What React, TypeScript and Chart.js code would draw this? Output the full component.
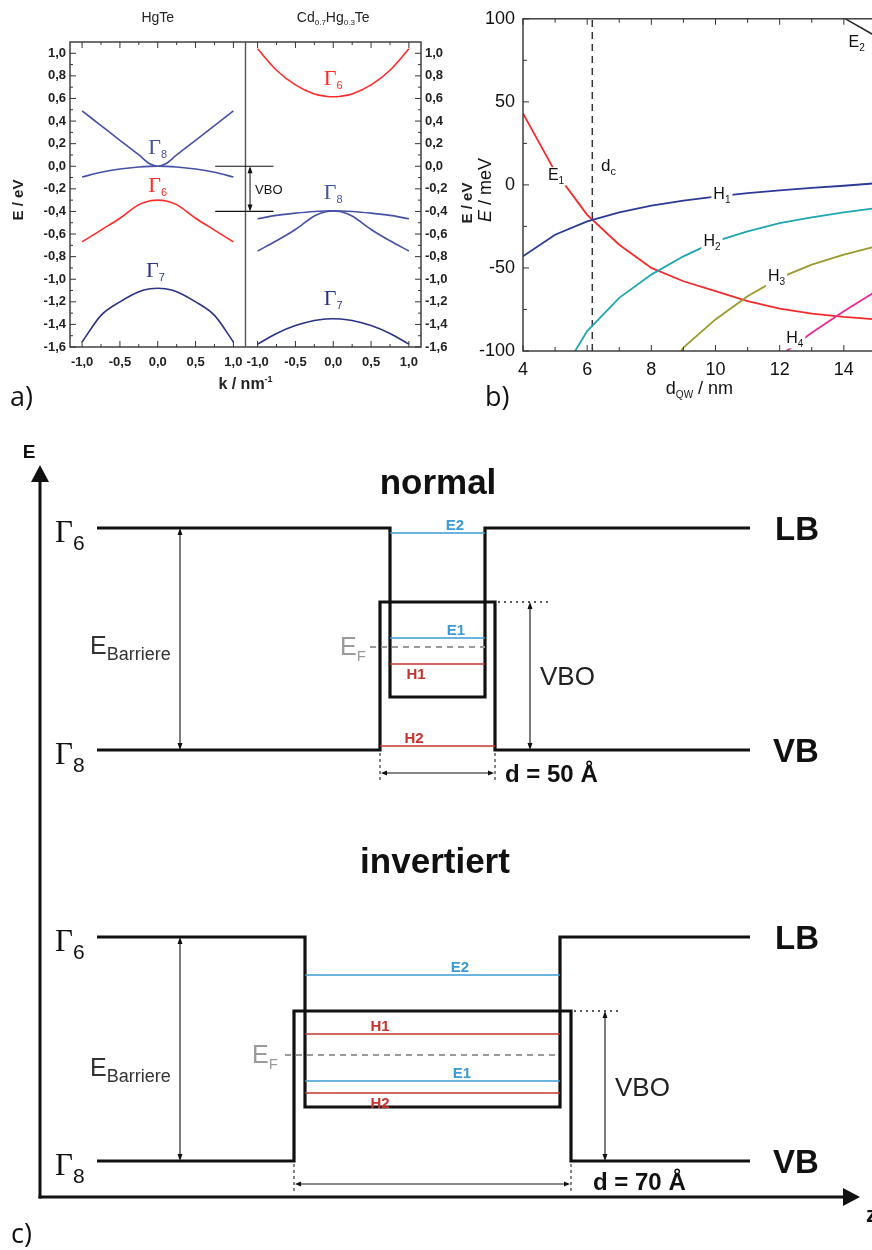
import React, { useEffect, useRef } from 'react';
import { Chart, registerables } from 'chart.js';

Chart.register(...registerables);

const SANS = "'Liberation Sans', Arial, Helvetica, sans-serif";
const NARROW = "'Liberation Sans Narrow', 'Liberation Sans', Arial, sans-serif";
const SERIF = "'Liberation Serif', 'DejaVu Serif', 'Times New Roman', serif";
const LIGHT = "'Open Sans', 'Liberation Sans', sans-serif";

/* ---------------- Panel a) band structure data (E in eV, k in 1/nm) ---------------- */
const kPoints = [-1, -0.75, -0.5, -0.25, -0.1, 0, 0.1, 0.25, 0.5, 0.75, 1];
const hgTeGamma8Light = [0.49, 0.36, 0.23, 0.1, 0.02, 0, 0.02, 0.1, 0.23, 0.36, 0.49];
const hgTeGamma8Heavy = [-0.095, -0.053, -0.024, -0.006, -0.001, 0, -0.001, -0.006, -0.024, -0.053, -0.095];
const hgTeGamma6 = [-0.67, -0.565, -0.46, -0.34, -0.305, -0.3, -0.305, -0.34, -0.46, -0.565, -0.67];
const hgTeGamma7 = [-1.555, -1.32, -1.2, -1.11, -1.085, -1.08, -1.085, -1.11, -1.2, -1.32, -1.555];
const cdHgTeGamma6 = [1.04, 0.85, 0.72, 0.64, 0.62, 0.615, 0.62, 0.64, 0.72, 0.85, 1.04];
const cdHgTeGamma8Heavy = [-0.465, -0.435, -0.415, -0.4, -0.396, -0.395, -0.396, -0.4, -0.415, -0.435, -0.465];
const cdHgTeGamma8Light = [-0.75, -0.66, -0.56, -0.44, -0.402, -0.395, -0.402, -0.44, -0.56, -0.66, -0.75];
const cdHgTeGamma7 = [-1.575, -1.48, -1.41, -1.365, -1.352, -1.35, -1.352, -1.365, -1.41, -1.48, -1.575];
const kTickValues = [-1, -0.5, 0, 0.5, 1];
const kMinorTicks = [-0.75, -0.25, 0.25, 0.75];
const energyTicksA = [-1.6, -1.4, -1.2, -1.0, -0.8, -0.6, -0.4, -0.2, 0, 0.2, 0.4, 0.6, 0.8, 1.0];
const energyMinorA = [-1.5, -1.3, -1.1, -0.9, -0.7, -0.5, -0.3, -0.1, 0.1, 0.3, 0.5, 0.7, 0.9];
const vboLevelsA = [0, -0.4];

/* ---------------- Panel b) subband energies (meV) vs QW thickness (nm) ---------------- */
const dQW = [4, 5, 6, 7, 8, 9, 10, 11, 12, 13, 14, 15, 16];
const subbandE1 = [43, 8, -18, -36, -50, -58, -64, -70, -74.5, -77.5, -79.5, -81, -82];
const subbandH1 = [-43, -30, -22, -16.5, -12.5, -9.5, -7, -5, -3.3, -1.8, -0.5, 1, 2];
const subbandH2 = [null, -120, -88, -68, -54, -43, -34, -28, -23, -19.5, -16.5, -14, -12];
const subbandH3 = [null, null, null, null, -125, -98, -81, -67, -56, -48, -42, -37, -33];
const subbandH4 = [null, null, null, null, null, null, null, null, -103, -89, -76, -64, -54];
const subbandE2 = [null, null, null, null, null, null, null, null, null, 113, 100.5, 89.5, 80];
const criticalThickness = 6.16;
const dTickValues = [4, 6, 8, 10, 12, 14, 16];
const eTickValuesB = [-100, -50, 0, 50, 100];

/* ---------------- Panel c) schematic band edges (z, E in schematic units) ---------------- */
const zBandStart = 57;
const zBandEnd = 710;
const normalLBWalls = [350, 445];
const normalVBWalls = [340, 455];
const normalLBEdges = [669, 500];
const normalVBEdges = [447, 595];
const normalSubbandNames = ['E2', 'E1', 'H1', 'H2'];
const normalSubbandEnergies = [664, 559, 533, 451];
const normalFermi = 550;
const invertedLBWalls = [265, 520];
const invertedVBWalls = [254, 531];
const invertedLBEdges = [260, 90];
const invertedVBEdges = [36, 186];
const invertedSubbandNames = ['E2', 'H1', 'E1', 'H2'];
const invertedSubbandEnergies = [222, 163, 116, 104];
const invertedFermi = 142;
const wellWidthsAngstrom = [50, 70];

/* ---------------- helpers ---------------- */
type Part = { t: string; size: number; family?: string; weight?: string; style?: string; dy?: number; color?: string };

function drawParts(ctx: any, x: number, y: number, parts: Part[], align = 'left', color = '#000', bg?: string) {
  ctx.save();
  ctx.textAlign = 'left';
  ctx.textBaseline = 'alphabetic';
  const fontOf = (p: Part) => `${p.style || 'normal'} ${p.weight || 'normal'} ${p.size}px ${p.family || SANS}`;
  const widths = parts.map((p) => {
    ctx.font = fontOf(p);
    return ctx.measureText(p.t).width;
  });
  const total = widths.reduce((s, w) => s + w, 0);
  let cx = align === 'center' ? x - total / 2 : align === 'right' ? x - total : x;
  if (bg) {
    const h = Math.max(...parts.map((p) => p.size));
    ctx.fillStyle = bg;
    ctx.fillRect(cx - 2, y - h * 0.8, total + 4, h * 1.15);
  }
  parts.forEach((p, i) => {
    ctx.font = fontOf(p);
    ctx.fillStyle = p.color || color;
    ctx.fillText(p.t, cx, y + (p.dy || 0));
    cx += widths[i];
  });
  ctx.restore();
  return total;
}

function head(ctx: any, x: number, y: number, dx: number, dy: number, len: number, half: number) {
  const bx = x - dx * len;
  const by = y - dy * len;
  ctx.beginPath();
  ctx.moveTo(x, y);
  ctx.lineTo(bx - dy * half, by + dx * half);
  ctx.lineTo(bx + dy * half, by - dx * half);
  ctx.closePath();
  ctx.fill();
}

function doubleArrow(ctx: any, x1: number, y1: number, x2: number, y2: number, len = 7, half = 2.5, lw = 1, color = '#111') {
  ctx.save();
  ctx.strokeStyle = color;
  ctx.fillStyle = color;
  ctx.lineWidth = lw;
  const L = Math.hypot(x2 - x1, y2 - y1);
  const ux = (x2 - x1) / L;
  const uy = (y2 - y1) / L;
  ctx.beginPath();
  ctx.moveTo(x1 + ux * 2, y1 + uy * 2);
  ctx.lineTo(x2 - ux * 2, y2 - uy * 2);
  ctx.stroke();
  head(ctx, x2, y2, ux, uy, len, half);
  head(ctx, x1, y1, -ux, -uy, len, half);
  ctx.restore();
}

function seg(ctx: any, x1: number, y1: number, x2: number, y2: number) {
  ctx.beginPath();
  ctx.moveTo(x1, y1);
  ctx.lineTo(x2, y2);
  ctx.stroke();
}

function pairs(xs: number[], ys: (number | null)[], shift = 0) {
  const out: any[] = [];
  xs.forEach((x, i) => {
    if (ys[i] !== null && ys[i] !== undefined) out.push({ x: x + shift, y: ys[i] });
  });
  return out;
}

function lineDs(data: any[], color: string, width = 1.6, extra: any = {}) {
  return {
    data,
    borderColor: color,
    backgroundColor: color,
    borderWidth: width,
    pointRadius: 0,
    pointHoverRadius: 0,
    showLine: true,
    fill: false,
    tension: 0,
    ...extra,
  };
}

const commaFmt = (v: number) => {
  const r = Math.round(v * 10) / 10;
  const s = (Math.abs(r) < 1e-9 ? 0 : r).toFixed(1);
  return s.replace('.', ',');
};

/* ---------------- Panel a) ---------------- */
const K_HALF = 1.16;
const K_SHIFT = 2.32;
const NAVY = '#4551a6';
const NAVY_DARK = '#2c3285';
const RED = '#ff2b2b';

const panelAPlugin = {
  id: 'panelA',
  afterDraw(chart: any) {
    const { ctx, chartArea: ca, scales } = chart;
    const X = (v: number) => scales.x.getPixelForValue(v);
    const Y = (v: number) => scales.y.getPixelForValue(v);
    ctx.save();
    ctx.strokeStyle = '#333';
    ctx.lineWidth = 1.4;
    ctx.strokeRect(ca.left, ca.top, ca.right - ca.left, ca.bottom - ca.top);
    ctx.strokeStyle = '#555';
    seg(ctx, X(K_HALF), ca.top, X(K_HALF), ca.bottom);
    ctx.strokeStyle = '#333';
    ctx.lineWidth = 1;
    const xMajor = [...kTickValues, ...kTickValues.map((v) => v + K_SHIFT)];
    const xMinor = [...kMinorTicks, ...kMinorTicks.map((v) => v + K_SHIFT)];
    xMajor.forEach((v) => {
      const p = X(v);
      seg(ctx, p, ca.bottom, p, ca.bottom - 6);
      seg(ctx, p, ca.top, p, ca.top + 6);
    });
    xMinor.forEach((v) => {
      const p = X(v);
      seg(ctx, p, ca.bottom, p, ca.bottom - 3);
      seg(ctx, p, ca.top, p, ca.top + 3);
    });
    energyTicksA.forEach((v) => {
      const p = Y(v);
      seg(ctx, ca.left, p, ca.left + 6, p);
      seg(ctx, ca.right, p, ca.right - 6, p);
    });
    energyMinorA.forEach((v) => {
      const p = Y(v);
      seg(ctx, ca.left, p, ca.left + 3, p);
      seg(ctx, ca.right, p, ca.right - 3, p);
    });
    // VBO marker
    ctx.strokeStyle = '#111';
    ctx.lineWidth = 1.2;
    vboLevelsA.forEach((e) => seg(ctx, X(0.76), Y(e), X(K_SHIFT - 0.79), Y(e)));
    doubleArrow(ctx, X(1.22), Y(vboLevelsA[0]), X(1.22), Y(vboLevelsA[1]), 7, 2.5, 1, '#111');
    drawParts(ctx, X(1.22) + 5, Y(-0.2) + 5, [{ t: 'VBO', size: 13 }], 'left', '#111');
    // Gamma labels
    const gam = (k: number, e: number, n: string, color: string) =>
      drawParts(ctx, X(k), Y(e) + 7, [
        { t: 'Γ', size: 22, family: SERIF },
        { t: n, size: 11, dy: 4 },
      ], 'center', color);
    gam(0, 0.17, '8', NAVY);
    gam(0, -0.17, '6', RED);
    gam(-0.03, -0.92, '7', NAVY_DARK);
    gam(K_SHIFT, 0.78, '6', RED);
    gam(K_SHIFT, -0.23, '8', NAVY);
    gam(K_SHIFT, -1.17, '7', NAVY_DARK);
    // titles
    drawParts(ctx, X(0), 22, [{ t: 'HgTe', size: 14 }], 'center', '#222');
    drawParts(ctx, X(K_SHIFT), 22, [
      { t: 'Cd', size: 14 },
      { t: '0.7', size: 8, dy: 3 },
      { t: 'Hg', size: 14 },
      { t: '0.3', size: 8, dy: 3 },
      { t: 'Te', size: 14 },
    ], 'center', '#222');
    // axis titles
    const vTitle = (cx: number, cy: number) => {
      ctx.save();
      ctx.translate(cx, cy);
      ctx.rotate(-Math.PI / 2);
      drawParts(ctx, 0, 5, [{ t: 'E / eV', size: 15, weight: 'bold' }], 'center', '#222');
      ctx.restore();
    };
    vTitle(18, 200);
    vTitle(467, 203);
    drawParts(ctx, X(K_HALF), 389, [
      { t: 'k / nm', size: 16, weight: 'bold' },
      { t: '-1', size: 9, weight: 'bold', dy: -7 },
    ], 'center', '#222');
    ctx.restore();
  },
};

function makeChartA(canvas: HTMLCanvasElement) {
  const datasets = [
    lineDs(pairs(kPoints, hgTeGamma8Light), NAVY, 1.6, { cubicInterpolationMode: 'monotone' }),
    lineDs(pairs(kPoints, hgTeGamma8Heavy), NAVY, 1.6, { cubicInterpolationMode: 'monotone' }),
    lineDs(pairs(kPoints, hgTeGamma6), RED, 1.6, { cubicInterpolationMode: 'monotone' }),
    lineDs(pairs(kPoints, hgTeGamma7), NAVY_DARK, 1.6, { cubicInterpolationMode: 'monotone' }),
    lineDs(pairs(kPoints, cdHgTeGamma6, K_SHIFT), RED, 1.6, { cubicInterpolationMode: 'monotone' }),
    lineDs(pairs(kPoints, cdHgTeGamma8Heavy, K_SHIFT), NAVY, 1.6, { cubicInterpolationMode: 'monotone' }),
    lineDs(pairs(kPoints, cdHgTeGamma8Light, K_SHIFT), NAVY, 1.6, { cubicInterpolationMode: 'monotone' }),
    lineDs(pairs(kPoints, cdHgTeGamma7, K_SHIFT), NAVY_DARK, 1.6, { cubicInterpolationMode: 'monotone' }),
  ];
  const tickFont = { family: NARROW, size: 13, weight: 'bold' as const };
  const yAxis = (pos: string, width: number) => ({
    type: 'linear',
    position: pos,
    min: -1.6,
    max: 1.1,
    grid: { display: false, drawTicks: false },
    border: { display: false },
    afterBuildTicks: (s: any) => {
      s.ticks = energyTicksA.map((v) => ({ value: v }));
    },
    afterFit: (s: any) => {
      s.width = width;
    },
    ticks: { padding: 4, color: '#222', font: tickFont, autoSkip: false, callback: (v: number) => commaFmt(v) },
  });
  return new Chart(canvas, {
    type: 'scatter',
    data: { datasets } as any,
    options: {
      animation: false,
      responsive: false,
      devicePixelRatio: 1,
      events: [],
      layout: { padding: { top: 42, left: 0, right: 0, bottom: 0 } },
      plugins: { legend: { display: false }, tooltip: { enabled: false } },
      scales: {
        x: {
          type: 'linear',
          min: -K_HALF,
          max: K_SHIFT + K_HALF,
          grid: { display: false, drawTicks: false },
          border: { display: false },
          afterBuildTicks: (s: any) => {
            s.ticks = [...kTickValues, ...kTickValues.map((v) => v + K_SHIFT)].map((v) => ({ value: v }));
          },
          afterFit: (s: any) => {
            s.height = 63;
          },
          ticks: {
            autoSkip: false,
            maxRotation: 0,
            padding: 8,
            color: '#222',
            font: tickFont,
            callback: (v: number) => commaFmt(v > K_HALF ? v - K_SHIFT : v),
          },
        },
        y: yAxis('left', 70),
        y2: yAxis('right', 59),
      } as any,
    },
    plugins: [panelAPlugin],
  } as any);
}

/* ---------------- Panel b) ---------------- */
const COL_E1 = '#f42b2b';
const COL_H1 = '#2b3a96';
const COL_H2 = '#1fa6b2';
const COL_H3 = '#9b9a2c';
const COL_H4 = '#ec2a94';
const COL_E2 = '#222';

const panelBPlugin = {
  id: 'panelB',
  afterDraw(chart: any) {
    const { ctx, chartArea: ca, scales } = chart;
    const X = (v: number) => scales.x.getPixelForValue(v);
    const Y = (v: number) => scales.y.getPixelForValue(v);
    ctx.save();
    // labels with white knock-out
    const lab = (d: number, e: number, main: string, sub: string, color: string, bg = true) =>
      drawParts(ctx, X(d), Y(e) + 5, [
        { t: main, size: 16, family: NARROW },
        { t: sub, size: 10, family: NARROW, dy: 4 },
      ], 'center', color, bg ? '#fff' : undefined);
    lab(5.03, 6, 'E', '1', '#111');
    lab(10.2, -5.5, 'H', '1', '#111');
    lab(9.89, -34, 'H', '2', '#111');
    lab(11.9, -55, 'H', '3', '#111');
    lab(12.47, -92, 'H', '4', '#111');
    lab(14.4, 86, 'E', '2', '#111', false);
    drawParts(ctx, X(6.43), Y(8.5), [
      { t: 'd', size: 17, family: NARROW },
      { t: 'c', size: 11, family: NARROW, dy: 4 },
    ], 'left', '#111');
    // frame and ticks
    ctx.strokeStyle = '#333';
    ctx.lineWidth = 1.4;
    ctx.strokeRect(ca.left, ca.top, ca.right - ca.left, ca.bottom - ca.top);
    ctx.lineWidth = 1;
    for (let i = 0; i < dQW.length; i++) {
      const d = dQW[i];
      const p = X(d);
      const len = d % 2 === 0 ? 6 : 4;
      seg(ctx, p, ca.bottom, p, ca.bottom - len);
      seg(ctx, p, ca.top, p, ca.top + len);
    }
    eTickValuesB.forEach((v) => {
      const p = Y(v);
      seg(ctx, ca.left, p, ca.left + 6, p);
      if (v < 100) {
        const q = Y(v + 25);
        seg(ctx, ca.left, q, ca.left + 4, q);
      }
    });
    // axis titles
    ctx.save();
    ctx.translate(45, 190);
    ctx.rotate(-Math.PI / 2);
    drawParts(ctx, 0, 6, [
      { t: 'E', size: 18, family: NARROW, style: 'italic' },
      { t: ' / meV', size: 18, family: NARROW },
    ], 'center', '#111');
    ctx.restore();
    drawParts(ctx, X(9.5), 394, [
      { t: 'd', size: 18, family: NARROW },
      { t: 'QW', size: 10, family: NARROW, dy: 4 },
      { t: ' / nm', size: 18, family: NARROW },
    ], 'center', '#111');
    ctx.restore();
  },
};

function makeChartB(canvas: HTMLCanvasElement) {
  const datasets = [
    lineDs(pairs(dQW, subbandH4), COL_H4, 1.8),
    lineDs(pairs(dQW, subbandH3), COL_H3, 1.8),
    lineDs(pairs(dQW, subbandH2), COL_H2, 1.8),
    lineDs(pairs(dQW, subbandH1), COL_H1, 1.8),
    lineDs(pairs(dQW, subbandE1), COL_E1, 1.8),
    lineDs(pairs(dQW, subbandE2), COL_E2, 1.5),
    lineDs([{ x: criticalThickness, y: -100 }, { x: criticalThickness, y: 100 }], '#333', 1.5, { borderDash: [7, 5] }),
  ];
  const tickFont = { family: NARROW, size: 18 };
  return new Chart(canvas, {
    type: 'scatter',
    data: { datasets } as any,
    options: {
      animation: false,
      responsive: false,
      devicePixelRatio: 1,
      events: [],
      layout: { padding: { top: 17, left: 0, right: 52, bottom: 0 } },
      plugins: { legend: { display: false }, tooltip: { enabled: false } },
      scales: {
        x: {
          type: 'linear',
          min: 4,
          max: 16,
          grid: { display: false, drawTicks: false },
          border: { display: false },
          afterBuildTicks: (s: any) => {
            s.ticks = dTickValues.map((v) => ({ value: v }));
          },
          afterFit: (s: any) => {
            s.height = 59;
          },
          ticks: { autoSkip: false, maxRotation: 0, padding: 8, color: '#111', font: tickFont },
        },
        y: {
          type: 'linear',
          min: -100,
          max: 100,
          grid: { display: false, drawTicks: false },
          border: { display: false },
          afterBuildTicks: (s: any) => {
            s.ticks = eTickValuesB.map((v) => ({ value: v }));
          },
          afterFit: (s: any) => {
            s.width = 83;
          },
          ticks: { autoSkip: false, padding: 8, color: '#111', font: tickFont },
        },
      } as any,
    },
    plugins: [panelBPlugin],
  } as any);
}

/* ---------------- Panel c) ---------------- */
const BLUE = '#3a9bd5';
const DRED = '#c4342d';

const diagramsC = [
  {
    lbWalls: normalLBWalls,
    vbWalls: normalVBWalls,
    lb: normalLBEdges,
    vb: normalVBEdges,
    names: normalSubbandNames,
    energies: normalSubbandEnergies,
    fermi: normalFermi,
    width: wellWidthsAngstrom[0],
  },
  {
    lbWalls: invertedLBWalls,
    vbWalls: invertedVBWalls,
    lb: invertedLBEdges,
    vb: invertedVBEdges,
    names: invertedSubbandNames,
    energies: invertedSubbandEnergies,
    fermi: invertedFermi,
    width: wellWidthsAngstrom[1],
  },
];

const layoutC = [
  {
    title: 'normal', titleZ: 398, titleE: 703, barrierTextE: 543, efTextZ: 300, efStartZ: 330,
    vboArrowZ: 490, vboDotEndZ: 508, vboTextZ: 500, vboTextE: 512, dLineBottomE: 415, dArrowE: 424,
    dTextZ: 465, dTextE: 415, labelZ: [415, 416, 376, 374], labelBelow: [false, false, true, false],
  },
  {
    title: 'invertiert', titleZ: 395, titleE: 324, barrierTextE: 121, efTextZ: 212, efStartZ: 245,
    vboArrowZ: 565, vboDotEndZ: 580, vboTextZ: 575, vboTextE: 101, dLineBottomE: 5, dArrowE: 13,
    dTextZ: 553, dTextE: 7, labelZ: [420, 340, 422, 340], labelBelow: [false, false, false, true],
  },
];

function bandPath(walls: number[], barrier: number, well: number) {
  return [
    { x: zBandStart, y: barrier },
    { x: walls[0], y: barrier },
    { x: walls[0], y: well },
    { x: walls[1], y: well },
    { x: walls[1], y: barrier },
    { x: zBandEnd, y: barrier },
  ];
}

const panelCPlugin = {
  id: 'panelC',
  afterDraw(chart: any) {
    const { ctx, scales } = chart;
    const X = (v: number) => scales.x.getPixelForValue(v);
    const Y = (v: number) => scales.y.getPixelForValue(v);
    ctx.save();
    // axes
    ctx.strokeStyle = '#111';
    ctx.fillStyle = '#111';
    ctx.lineWidth = 3;
    ctx.lineCap = 'butt';
    seg(ctx, X(0), Y(0) + 1.5, X(0), Y(732) + 12);
    head(ctx, X(0), Y(732), 0, -1, 17, 9);
    seg(ctx, X(0) - 1.5, Y(0), X(820) - 12, Y(0));
    head(ctx, X(820), Y(0), 1, 0, 17, 9);
    drawParts(ctx, X(-11), Y(739), [{ t: 'E', size: 19, weight: 'bold' }], 'center', '#111');
    drawParts(ctx, X(826), Y(-25), [{ t: 'z', size: 22, weight: 'bold' }], 'left', '#111');

    diagramsC.forEach((dg, idx) => {
      const L = layoutC[idx];
      // title
      drawParts(ctx, X(L.titleZ), Y(L.titleE), [{ t: L.title, size: 35, weight: 'bold' }], 'center', '#111');
      // Gamma labels
      const gam = (e: number, n: string) =>
        drawParts(ctx, X(15), Y(e) + 14, [
          { t: 'Γ', size: 31, family: SERIF },
          { t: n, size: 21, dy: 8 },
        ], 'left', '#111');
      gam(dg.lb[0], '6');
      gam(dg.vb[0], '8');
      // LB / VB
      drawParts(ctx, X(735), Y(dg.lb[0]) + 12, [{ t: 'LB', size: 33, weight: 'bold' }], 'left', '#111');
      drawParts(ctx, X(733), Y(dg.vb[0]) + 12, [{ t: 'VB', size: 33, weight: 'bold' }], 'left', '#111');
      // E_Barriere
      doubleArrow(ctx, X(140), Y(dg.lb[0]), X(140), Y(dg.vb[0]), 7, 2.5, 1.1, '#111');
      drawParts(ctx, X(50), Y(L.barrierTextE), [
        { t: 'E', size: 25 },
        { t: 'Barriere', size: 18, dy: 6 },
      ], 'left', '#333');
      // E_F text
      drawParts(ctx, X(L.efTextZ), Y(dg.fermi) + 8, [
        { t: 'E', size: 25 },
        { t: 'F', size: 15, dy: 6 },
      ], 'left', '#9a9a9a');
      // VBO
      doubleArrow(ctx, X(L.vboArrowZ), Y(dg.vb[1]), X(L.vboArrowZ), Y(dg.vb[0]), 7, 2.5, 1.1, '#111');
      ctx.save();
      ctx.strokeStyle = '#222';
      ctx.lineWidth = 1.4;
      ctx.setLineDash([2, 4]);
      seg(ctx, X(dg.vbWalls[1]) + 3, Y(dg.vb[1]), X(L.vboDotEndZ), Y(dg.vb[1]));
      ctx.setLineDash([3, 3]);
      ctx.lineWidth = 1.1;
      dg.vbWalls.forEach((w) => seg(ctx, X(w), Y(dg.vb[0]) + 3, X(w), Y(L.dLineBottomE)));
      ctx.restore();
      drawParts(ctx, X(L.vboTextZ), Y(L.vboTextE), [{ t: 'VBO', size: 26 }], 'left', '#222');
      // width arrow
      doubleArrow(ctx, X(dg.vbWalls[0]) + 1, Y(L.dArrowE), X(dg.vbWalls[1]) - 1, Y(L.dArrowE), 6, 2.5, 1.1, '#111');
      drawParts(ctx, X(L.dTextZ), Y(L.dTextE), [{ t: `d = ${dg.width} Å`, size: 24, weight: 'bold' }], 'left', '#111');
      // subband labels
      dg.names.forEach((n, i) => {
        const e = dg.energies[i];
        const base = L.labelBelow[i] ? Y(e) + 15 : Y(e) - 3;
        drawParts(ctx, X(L.labelZ[i]), base, [{ t: n, size: 15, weight: 'bold' }], 'center', n[0] === 'E' ? BLUE : DRED);
      });
    });
    ctx.restore();
  },
};

function makeChartC(canvas: HTMLCanvasElement) {
  const datasets: any[] = [];
  diagramsC.forEach((dg, idx) => {
    const L = layoutC[idx];
    dg.energies.forEach((e, i) => {
      const walls = e > dg.lb[1] ? dg.lbWalls : dg.vbWalls;
      datasets.push(lineDs([{ x: walls[0], y: e }, { x: walls[1], y: e }], dg.names[i][0] === 'E' ? BLUE : DRED, 1.6));
    });
    datasets.push(lineDs([{ x: L.efStartZ, y: dg.fermi }, { x: dg.lbWalls[1], y: dg.fermi }], '#9a9a9a', 2, { borderDash: [6, 5] }));
    datasets.push(lineDs(bandPath(dg.lbWalls, dg.lb[0], dg.lb[1]), '#111', 3.2, { borderJoinStyle: 'miter' }));
    datasets.push(lineDs(bandPath(dg.vbWalls, dg.vb[0], dg.vb[1]), '#111', 3.2, { borderJoinStyle: 'miter' }));
  });
  return new Chart(canvas, {
    type: 'scatter',
    data: { datasets },
    options: {
      animation: false,
      responsive: false,
      devicePixelRatio: 1,
      events: [],
      layout: { padding: 0 },
      plugins: { legend: { display: false }, tooltip: { enabled: false } },
      scales: {
        x: { type: 'linear', min: -40, max: 832, display: false },
        y: { type: 'linear', min: -53, max: 777, display: false },
      },
    },
    plugins: [panelCPlugin],
  } as any);
}

/* ---------------- App ---------------- */
export default function App() {
  const refA = useRef<HTMLCanvasElement>(null);
  const refB = useRef<HTMLCanvasElement>(null);
  const refC = useRef<HTMLCanvasElement>(null);

  useEffect(() => {
    const a = makeChartA(refA.current!);
    const b = makeChartB(refB.current!);
    const c = makeChartC(refC.current!);
    return () => {
      a.destroy();
      b.destroy();
      c.destroy();
    };
  }, []);

  const panelLetter = (text: string, left: number, top: number) => (
    <div
      style={{
        position: 'absolute',
        left,
        top,
        fontFamily: LIGHT,
        fontSize: 27,
        lineHeight: '27px',
        color: '#111',
      }}
    >
      {text}
    </div>
  );

  return (
    <div
      style={{
        position: 'absolute',
        left: 0,
        top: 0,
        width: 872,
        height: 1250,
        overflow: 'hidden',
        background: '#fff',
      }}
    >
      <canvas ref={refA} width={480} height={410} style={{ position: 'absolute', left: 0, top: 0, width: 480, height: 410 }} />
      <canvas ref={refB} width={520} height={410} style={{ position: 'absolute', left: 440, top: 0, width: 520, height: 410 }} />
      <canvas ref={refC} width={872} height={830} style={{ position: 'absolute', left: 0, top: 420, width: 872, height: 830 }} />
      {panelLetter('a)', 10, 382)}
      {panelLetter('b)', 485, 382)}
      {panelLetter('c)', 11, 1219)}
    </div>
  );
}
